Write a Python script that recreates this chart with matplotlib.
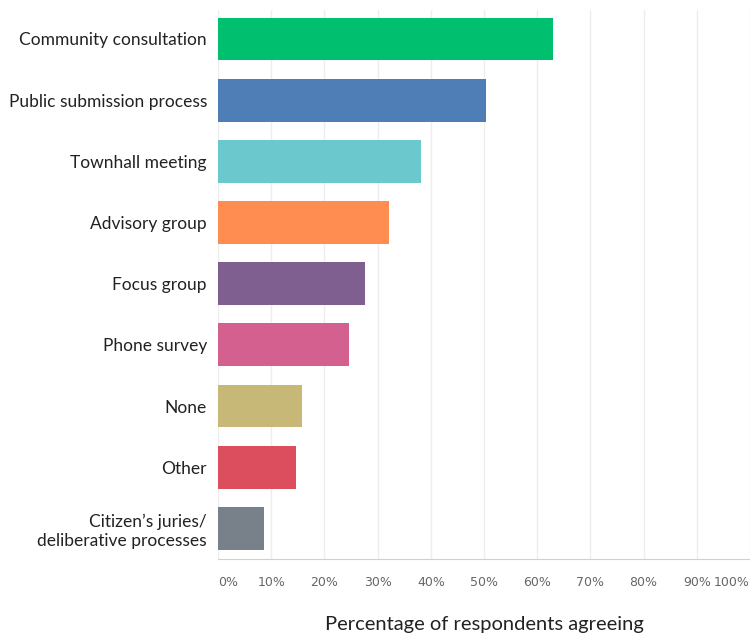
import numpy as np
import matplotlib.pyplot as plt

# survey results, % of respondents agreeing
methods = ["Community consultation", "Public submission process", "Townhall meeting",
           "Advisory group", "Focus group", "Phone survey", "None", "Other",
           "Citizen\u2019s juries/\ndeliberative processes"]
pct = [63.0, 50.3, 38.1, 32.2, 27.6, 24.6, 15.8, 14.7, 8.7]
colours = ["#00C070", "#4F7DB6", "#6BC8CC", "#FF8C50", "#7E5F8F",
           "#D4608F", "#C8B878", "#DC4D5E", "#78818A"]
ticks = list(range(0, 101, 10))

fig = plt.figure(figsize=(7.5, 6.37), dpi=100)
ax = fig.add_axes([0.2907, 0.1224, 0.7093, 0.8616])

y = np.arange(len(methods))
ax.barh(y, pct, height=0.7, color=colours, zorder=2)
ax.set_ylim(8.5, -0.47)
ax.set_xlim(0, 100)

ax.set_yticks(y)
ax.set_yticklabels(methods, fontsize=12.5, family="Lato", color="#222222")
ax.tick_params(axis="y", length=0, pad=8)

ax.set_xticks(ticks)
labels = ax.set_xticklabels([f"{t}%" for t in ticks], fontsize=9, color="#666666")
labels[0].set_ha("left")
labels[-1].set_ha("right")
ax.tick_params(axis="x", length=0, pad=12)

ax.grid(axis="x", color="#ededed", linewidth=1, zorder=0)
for s in ["top", "right", "left"]:
    ax.spines[s].set_visible(False)
ax.spines["bottom"].set_color("#d0d0d0")

ax.set_xlabel("Percentage of respondents agreeing", fontsize=14.5, family="Lato",
              color="#222222", labelpad=20)

fig.savefig("out.png", dpi=100)
